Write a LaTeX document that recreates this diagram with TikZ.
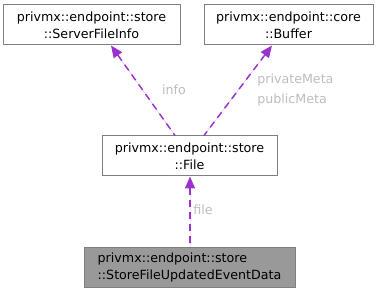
\documentclass[tikz,border=0pt]{standalone}
\usepackage{fontspec}
\setmainfont{DejaVu Sans}
\usepackage{xcolor}
\usetikzlibrary{arrows.meta}

\definecolor{edgepurple}{HTML}{9A32CD}
\definecolor{labelgray}{HTML}{BDBDBD}
\definecolor{boxline}{HTML}{7F7F7F}

\begin{document}
\begin{tikzpicture}[
    x=0.75pt, y=-0.75pt,
    cls/.style={
        rectangle, draw=boxline, line width=0.75pt, inner sep=0pt,
        minimum height=40*0.75pt, align=center, font=\fontsize{9.5}{12.75}\selectfont,
        fill=white
    },
    focus/.style={cls, fill=black!40, align=left},
    uses/.style={{Triangle[length=9pt,width=7.5pt]}-, draw=edgepurple, fill=edgepurple,
        line width=1.1pt, dash pattern=on 5.25pt off 3.75pt},
    tag/.style={text=labelgray, font=\fontsize{9.5}{15}\selectfont, inner sep=0pt}
]
\useasboundingbox (0,0) rectangle (379,292);

\node[cls, minimum width=177*0.75pt] (info) at (91.5,25)
    {privmx::endpoint::store\\::ServerFileInfo};
\node[cls, minimum width=169*0.75pt] (buf) at (288.5,25)
    {privmx::endpoint::core\\::Buffer};
\node[cls, minimum width=175*0.75pt] (file) at (189.5,156)
    {privmx::endpoint::store\\::File};
\node[focus, minimum width=211*0.75pt] (evt) at (189.5,267.5)
    {privmx::endpoint::store\\::StoreFileUpdatedEventData};

% member relations
\draw[uses] (info.south -| 111,0) -- (file.north -| 175,0);
\draw[uses] (buf.south -| 272,0) -- (file.north -| 204,0);
\draw[uses] (file.south -| 190,0) -- (evt.north -| 190,0);

\node[tag] (lInfo) at (174,90) {info};
\node[tag, align=left, anchor=west] (lMeta) at (257,90) {privateMeta\\publicMeta};
\node[tag] (lFile) at (203,210) {file};
\end{tikzpicture}
\end{document}
